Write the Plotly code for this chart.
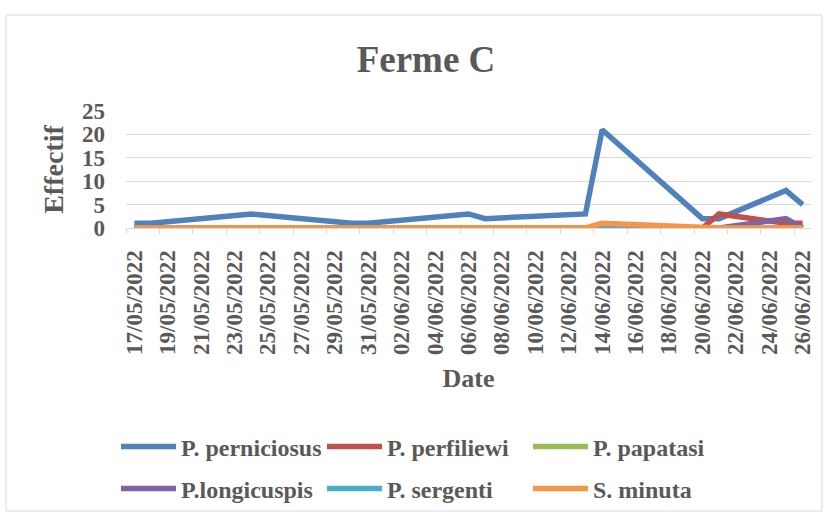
import pandas as pd
import plotly.graph_objects as go

# Sampling dates and counts per species
dates = ["2022-05-17", "2022-05-18", "2022-05-24", "2022-05-30", "2022-05-31",
         "2022-06-06", "2022-06-07", "2022-06-13", "2022-06-14", "2022-06-20",
         "2022-06-21", "2022-06-25", "2022-06-26"]

p_perniciosus = [1, 1, 3, 1, 1, 3, 2, 3, 21, 2, 2, 8, 5]
p_perfiliewi  = [0, 0, 0, 0, 0, 0, 0, 0, 0, 0, 3, 1, 1]
p_papatasi    = [0, 0, 0, 0, 0, 0, 0, 0, 0, 0, 0, 0, 0]
p_longicuspis = [0, 0, 0, 0, 0, 0, 0, 0, 0, 0, 0, 2, 0]
p_sergenti    = [0, 0, 0, 0, 0, 0, 0, 0, 0, 0, 0, 0, 0]
s_minuta      = [0, 0, 0, 0, 0, 0, 0, 0, 1, 0, 0, 0, 0]

series_names = ["P. perniciosus", "P. perfiliewi", "P. papatasi",
                "P.longicuspis", "P. sergenti", "S. minuta"]
series_values = [p_perniciosus, p_perfiliewi, p_papatasi,
                 p_longicuspis, p_sergenti, s_minuta]
series_colors = ["#4F81BD", "#C0504D", "#9BBB59", "#8064A2", "#4BACC6", "#F79646"]
legend_ids = ["legend", "legend", "legend", "legend2", "legend2", "legend2"]

# Axis labels every two days
tick_dates = pd.date_range("2022-05-17", "2022-06-26", freq="2D")
tick_text = [d.strftime("%d/%m/%Y") for d in tick_dates]

FONT = "Liberation Serif, Times New Roman, serif"
GREY = "#595959"
W, H = 829, 513
ML, MR, MT, MB = 126, 18, 111, 285

fig = go.Figure()
for name, vals, col, lg in zip(series_names, series_values, series_colors, legend_ids):
    fig.add_trace(go.Scatter(
        x=pd.to_datetime(dates), y=vals, name=name, mode="lines",
        line=dict(color=col, width=5.5), cliponaxis=False, legend=lg,
    ))

# Chart frame
pw, ph = W - ML - MR, H - MT - MB
fig.add_shape(type="rect", xref="paper", yref="paper",
              x0=(6 - ML) / pw, x1=(822 - ML) / pw,
              y0=(H - MB - 511) / ph, y1=(H - MB - 15) / ph,
              line=dict(color="#d9d9d9", width=1), layer="below")

legend_common = dict(
    orientation="h", xref="container", yref="container",
    xanchor="left", yanchor="middle",
    font=dict(family=FONT, size=24, color=GREY, weight="bold"),
    entrywidth=136, entrywidthmode="pixels", itemwidth=55,
    bgcolor="rgba(0,0,0,0)", traceorder="normal",
)

fig.update_layout(
    width=W, height=H,
    margin=dict(l=ML, r=MR, t=MT, b=MB, autoexpand=False),
    paper_bgcolor="white", plot_bgcolor="white",
    title=dict(text="Ferme C", xref="container", yref="container",
               x=426 / W, y=1 - 59 / H, xanchor="center", yanchor="middle",
               font=dict(family=FONT, size=37, color=GREY, weight="bold")),
    legend=dict(x=116 / W, y=1 - 447 / H, **legend_common),
    legend2=dict(x=116 / W, y=1 - 489 / H, **legend_common),
    xaxis=dict(
        type="date",
        range=["2022-05-16 12:00", "2022-06-26 12:00"],
        tickmode="array", tickvals=tick_dates, ticktext=tick_text,
        tickangle=-90, ticks="", ticklabelstandoff=12,
        tickfont=dict(family=FONT, size=23, color=GREY, weight="bold"),
        showgrid=False, showline=True, linecolor="#d9d9d9", linewidth=1,
        layer="below traces", zeroline=False,
        minor=dict(ticks="outside", ticklen=5, tickcolor="#d9d9d9",
                   tick0="2022-05-16 12:00", dtick=2 * 86400000, showgrid=False),
        title=dict(text="Date", standoff=14,
                   font=dict(family=FONT, size=26, color=GREY, weight="bold")),
    ),
    yaxis=dict(
        range=[0, 25], dtick=5, tick0=0,
        ticks="", ticklabelstandoff=20,
        tickfont=dict(family=FONT, size=23, color=GREY, weight="bold"),
        showgrid=True, gridcolor="#d9d9d9", gridwidth=1,
        zeroline=False, showline=False, layer="below traces",
        title=dict(text="Effectif", standoff=10,
                   font=dict(family=FONT, size=28, color=GREY, weight="bold")),
    ),
)

fig.write_html("out.html")
